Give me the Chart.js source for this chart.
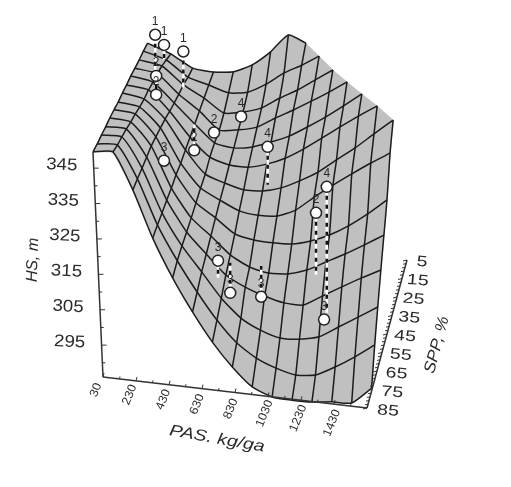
<!DOCTYPE html>
<html lang="en">
<head>
<meta charset="UTF-8">
<title>HS surface</title>
<script src="https://cdn.jsdelivr.net/npm/chart.js@4/dist/chart.umd.min.js"></script>
<style>
    html,body{margin:0;padding:0;background:#fff;}
    #chart1{display:block;}
</style>
</head>
<body>
<canvas id="chart1" width="511" height="487"></canvas>
<script>
// grid of the fitted surface
const pas = [30,130,230,330,430,530,630,730,830,930,1030,1130,1230,1330,1430];
const spp = [85,78.8,72.7,66.5,60.4,54.2,48.1,41.9,35.8,29.6,23.5,17.3,11.2,5];
// HS per spp row; rows stop where the surface goes behind its own ridge
const hs = [
    [349.6,350.2,340.1,327.1,316.5,307.5,299.6,293.2,288.2,286.0,285.7,285.8,286.5,286.8,291.6],
    [348.6,348.9,340.0,327.6,318.1,309.9,302.6,296.8,293.1,290.9,289.6,290.2,293.1,296.6,300.6],
    [347.9,348.0,339.8,327.8,319.1,312.4,305.6,300.6,297.8,296.2,296.5,297.8,301.2,304.6,308.1],
    [347.0,347.0,339.7,328.2,319.8,314.2,308.9,306.1,304.2,302.9,302.9,306.1,309.3,312.4,315.3],
    [346.3,345.8,339.6,328.4,320.6,316.1,311.4,308.6,307.5,307.9,309.6,312.5,315.4,318.6,322.0],
    [345.4,344.8,339.0,328.9,321.6,318.0,314.1,313.0,312.8,313.1,314.6,316.9,320.1,324.1,328.7],
    [344.4,343.6,338.3,329.0,322.6,319.8,317.4,316.8,317.2,319.5,323.8,327.8,331.6,335.3,338.7],
    [343.7,342.6,337.6,329.5,323.3,321.4,320.1,320.4,321.9,324.5,327.6,331.7,335.7,340.3,344.8],
    [342.8,342.0,336.6,329.9,324.9,323.3,323.3,324.8,327.1,330.3,334.0,337.8,341.5,345.0],
    [342.1,341.0,335.7,330.4,325.7,324.9,325.8,327.8,330.1,333.3,336.7,340.5,344.5],
    [341.1,340.1,335.0,330.9,326.1,326.8,328.2,331.4,334.3,337.4,340.6,344.1],
    [340.2,339.1,334.4,331.3,327.7,328.6,330.4,333.8,336.7,340.2,343.6],
    [339.5,337.6,333.4,331.8,330.2,331.0,333.9,337.7,340.5,343.7],
    [338.5,336.1,332.7,332.2,332.9,335.5,339.8,345.2,343.5]
];

// observations: position, measured HS, HS at the other end of the dashed drop
const obsLabel = ['1','1','1','2','2','3','2','2','4','4','4','2','3','3','3','3'];
const obsPas = [120,120,208,166,166,270,316,428,544,758,1136,1080,569,632,793,1122];
const obsSpp = [23.5,11.2,11.2,35.8,35.8,54.2,26.6,29.8,23.4,42,61,61,61,61,61,61];
const obsHs = [351.1,341.8,340.5,346.2,340.9,332.5,321.3,328.7,330.6,333.1,334.1,326.4,309.7,301,300.9,296.5];
const obsEnd = [340.4,337.6,330.3,341.7,338,332.5,328.6,328.7,328.4,322.4,298.5,308.9,304.9,309.5,309.9,296.5];

const pasTicks = [30,230,430,630,830,1030,1230,1430];
const sppTicks = [5,15,25,35,45,55,65,75,85];
const hsTicks = [295,305,315,325,335,345];

const LINE = '#1c1c1c';
const AXIS = '#333';

// 3D to picture
function project(p, s, h){
    const u = (p - 30) / 1400;
    const v = (85 - s) / 80;
    return {
        x: 93 + 278.6*u + 54.6*v - 14.56*u*v + 70*u*(1-u)*(1-u)*v,
        y: 377 + 31*u - 148*v - 3.54*(h - 286)
    };
}
// the box axes
function pasAxis(p){ const t = (p-30)/1600; return {x:103+264*t, y:377+31*t}; }
function sppAxis(s){ const t = (85-s)/80; return {x:367+40*t, y:408-148*t}; }
function hsAxis(h){ return {x:103-(h-286)*10/63.6, y:377-3.54*(h-286)}; }

const datasets = [];
hs.forEach((row, j) => {
    datasets.push({data: row.map((h, i) => project(pas[i], spp[j], h)), order: 5});
});
pas.forEach((p, i) => {
    const col = [];
    hs.forEach((row, j) => { if(row[i] !== undefined) col.push(project(p, spp[j], row[i])); });
    datasets.push({data: col, order: 5});
});
datasets.forEach(d => {
    d.showLine = true; d.pointRadius = 0; d.borderColor = LINE; d.borderWidth = 1.5; d.tension = 0.2;
});

// dashed drops, white under black
obsLabel.forEach((l, k) => {
    if(Math.abs(obsHs[k]-obsEnd[k]) < 3) return;
    const ends = [project(obsPas[k],obsSpp[k],obsHs[k]), project(obsPas[k],obsSpp[k],obsEnd[k])];
    datasets.push({data: ends, showLine:true, pointRadius:0, borderColor:'#fff', borderWidth:2.5, order:4});
    datasets.push({data: ends, showLine:true, pointRadius:0, borderColor:'#111', borderWidth:2.5, borderDash:[4,5], order:3});
});
datasets.push({
    data: obsLabel.map((l, k) => project(obsPas[k],obsSpp[k],obsHs[k])),
    showLine:false, pointRadius:5.5, pointBackgroundColor:'#fff', pointBorderColor:'#222', pointBorderWidth:1.5, order:1
});

function text(ctx, str, x, y, deg, font, sx){
    ctx.save();
    ctx.translate(x, y);
    ctx.rotate(deg*Math.PI/180);
    ctx.scale(sx || 1, 1);
    ctx.font = font;
    ctx.textAlign = 'center';
    ctx.textBaseline = 'middle';
    ctx.fillStyle = '#2a2a2a';
    ctx.fillText(str, 0, 0);
    ctx.restore();
}

const surface = {
    id:'surface',
    beforeDatasetsDraw(chart){
        const ctx = chart.ctx, sx = chart.scales.x, sy = chart.scales.y;
        ctx.save();
        ctx.fillStyle = '#c0c0c0';
        ctx.strokeStyle = '#c0c0c0';
        ctx.lineWidth = 0.6;
        for(let j=0;j<hs.length-1;j++){
            for(let i=0;i<pas.length-1;i++){
                const corners = [[j,i],[j,i+1],[j+1,i+1],[j+1,i]].filter(c => hs[c[0]][c[1]] !== undefined);
                if(corners.length < 3) continue;
                ctx.beginPath();
                corners.forEach((c, n) => {
                    const q = project(pas[c[1]], spp[c[0]], hs[c[0]][c[1]]);
                    const px = sx.getPixelForValue(q.x), py = sy.getPixelForValue(q.y);
                    if(n) ctx.lineTo(px,py); else ctx.moveTo(px,py);
                });
                ctx.closePath();
                ctx.fill();
                ctx.stroke();
            }
        }
        ctx.restore();
    },
    afterDatasetsDraw(chart){
        const ctx = chart.ctx, sx = chart.scales.x, sy = chart.scales.y;
        const px = q => [sx.getPixelForValue(q.x), sy.getPixelForValue(q.y)];
        ctx.save();
        ctx.strokeStyle = AXIS;
        ctx.lineWidth = 1.5;
        const seg = (a, b) => { ctx.beginPath(); ctx.moveTo(...px(a)); ctx.lineTo(...px(b)); ctx.stroke(); };
        seg(hsAxis(349.6), hsAxis(286));
        seg(pasAxis(30), pasAxis(1630));
        seg(sppAxis(85), sppAxis(5));
        ctx.lineWidth = 1;
        for(let h=290;h<=345;h+=5){
            const a = hsAxis(h), big = h%10===5;
            seg(a, {x:a.x+(big?5:3), y:a.y});
        }
        for(let p=30;p<=1630;p+=100){
            const a = pasAxis(p), big = (p-30)%200===0;
            seg(a, {x:a.x+(big?1:0.5), y:a.y-(big?4:2.5)});
        }
        for(let s=5;s<=85;s+=2){
            const a = sppAxis(s), big = (s-5)%10===0;
            seg(a, {x:a.x-(big?4:3), y:a.y+(big?1:0.5)});
        }
        ctx.restore();

        hsTicks.forEach(h => {
            const a = hsAxis(h);
            text(ctx, String(h), a.x-32, a.y-3, 3, '17px "Liberation Sans"', 1.1);
        });
        pasTicks.forEach(p => {
            const t = (p-30)/1400;
            text(ctx, String(p), 96+236*t, 390+33*t, -68, '12px "Liberation Sans"', 1.05);
        });
        sppTicks.forEach(s => {
            const t = (85-s)/80;
            text(ctx, String(s), 388+34*t, 411-149*t, 5, '15px "Liberation Sans"', 1.3);
        });
        text(ctx, 'HS, m', 33, 260, -88, 'italic 16px "Liberation Sans"');
        text(ctx, 'PAS. kg/ga', 217, 439, 10, 'italic 16px "Liberation Sans"', 1.22);
        text(ctx, 'SPP, %', 437, 345, -75, 'italic 16px "Liberation Sans"', 1.1);

        obsLabel.forEach((l, k) => {
            const q = project(obsPas[k],obsSpp[k],obsHs[k]);
            text(ctx, l, q.x, q.y-13, 0, '12px "Liberation Sans"');
        });
    }
};

new Chart(document.getElementById('chart1').getContext('2d'), {
    type:'scatter',
    data:{datasets:datasets},
    plugins:[surface],
    options:{
        responsive:false,
        animation:false,
        layout:{padding:0,autoPadding:false},
        plugins:{legend:{display:false},tooltip:{enabled:false}},
        scales:{
            x:{type:'linear',display:false,min:0,max:511},
            y:{type:'linear',display:false,min:0,max:487,reverse:true}
        }
    }
});
</script>
</body>
</html>
